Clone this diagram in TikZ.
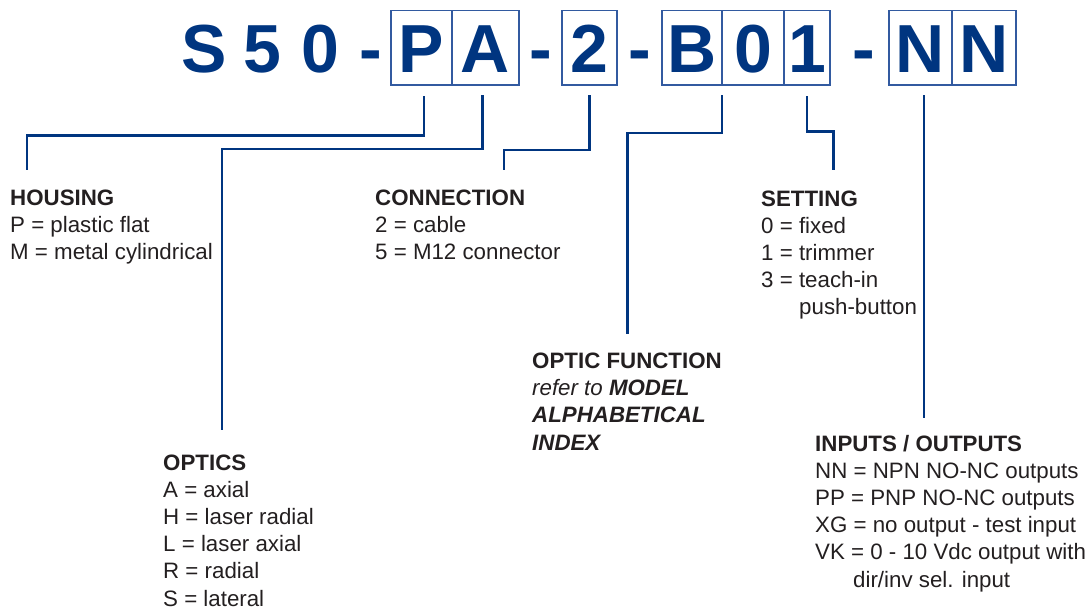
\documentclass[tikz,border=0pt]{standalone}
\usepackage{fontspec}
\setmainfont{Liberation Sans}
\definecolor{dblue}{RGB}{0,53,128}
\definecolor{boxblue}{RGB}{50,90,160}
\definecolor{txt}{RGB}{35,31,32}
\begin{document}
\begin{tikzpicture}[x=1pt,y=-1pt,
  big/.style={inner sep=0pt, text=dblue, font=\fontsize{68}{68}\bfseries\selectfont,
     text height=49pt, text depth=0pt, minimum height=74.5pt},
  cell/.style={big, draw=boxblue, line width=1.3pt},
  conn/.style={draw=dblue, line width=2.6pt},
  lbl/.style={anchor=base west, inner sep=0pt, align=left, text=txt,
     font=\fontsize{22.3}{27.2}\selectfont}]
\useasboundingbox (0,0) rectangle (1091,608);
% code letters
\node[big] (S)  at (204,47.75) {S};
\node[big] (c5) at (262,47.75) {5};
\node[big] (c0) at (320,47.75) {0};
\node[big] (d1) at (371,47.75) {-};
\node[cell, minimum width=61pt] (P)  at (421.5,47.75) {P};
\node[cell, minimum width=67pt] (A)  at (485.5,47.75) {A};
\node[big] (d2) at (541,47.75) {-};
\node[cell, minimum width=55pt] (T)  at (589.5,47.75) {2};
\node[big] (d3) at (640,47.75) {-};
\node[cell, minimum width=60pt] (B)  at (692,47.75) {B};
\node[cell, minimum width=62pt] (Z)  at (753,47.75) {0};
\node[cell, minimum width=46pt] (O)  at (807,47.75) {1};
\node[big] (d4) at (864,47.75) {-};
\node[cell, minimum width=63pt] (N1) at (920.5,47.75) {N};
\node[cell, minimum width=64pt] (N2) at (984,47.75) {N};
% labels (base anchor = baseline of the last line)
\node[lbl] (housing) at (10,259.9) {\textbf{HOUSING}\\P = plastic flat\\M = metal cylindrical};
\node[lbl] (connection) at (375,259.9) {\textbf{CONNECTION}\\2 = cable\\5 = M12 connector};
\node[lbl] (setting) at (761,314.8) {\textbf{SETTING}\\0 = fixed\\1 = trimmer\\3 = teach-in\\\hspace*{38pt}push-button};
\node[lbl] (optfun) at (532,450.1) {\textbf{OPTIC FUNCTION}\\\textit{refer to \textbf{MODEL}}\\\textbf{\textit{ALPHABETICAL}}\\\textbf{\textit{INDEX}}};
\node[lbl] (optics) at (163,606) {\textbf{OPTICS}\\A = axial\\H = laser radial\\L = laser axial\\R = radial\\S = lateral};
\node[lbl] (io) at (815,587) {\textbf{INPUTS / OUTPUTS}\\NN = NPN NO-NC outputs\\PP = PNP NO-NC outputs\\XG = no output - test input\\VK = 0 - 10 Vdc output with\\\hspace*{38pt}dir/inv sel. input};
% connector end points
\coordinate (pS) at (424,96);
\coordinate (pE) at (27,170);
\coordinate (aS) at (482.5,95);
\coordinate (aE) at (222,429.5);
\coordinate (tS) at (589.5,95);
\coordinate (tE) at (504,170);
\coordinate (bS) at (722,95);
\coordinate (bE) at (627.5,334);
\coordinate (oS) at (807,96);
\coordinate (oE) at (833.5,170);
\coordinate (nS) at (924,95);
\coordinate (nE) at (924,418);
% connectors
\draw[conn] (pS) |- (pE |- 0,135.5) -- (pE);
\draw[conn] (aS) |- (aE |- 0,149) -- (aE);
\draw[conn] (tS) |- (tE |- 0,150) -- (tE);
\draw[conn] (bS) |- (bE |- 0,133) -- (bE);
\draw[conn] (oS) |- (oE |- 0,131.5) -- (oE);
\draw[conn] (nS) -- (nE);
\end{tikzpicture}
\end{document}
